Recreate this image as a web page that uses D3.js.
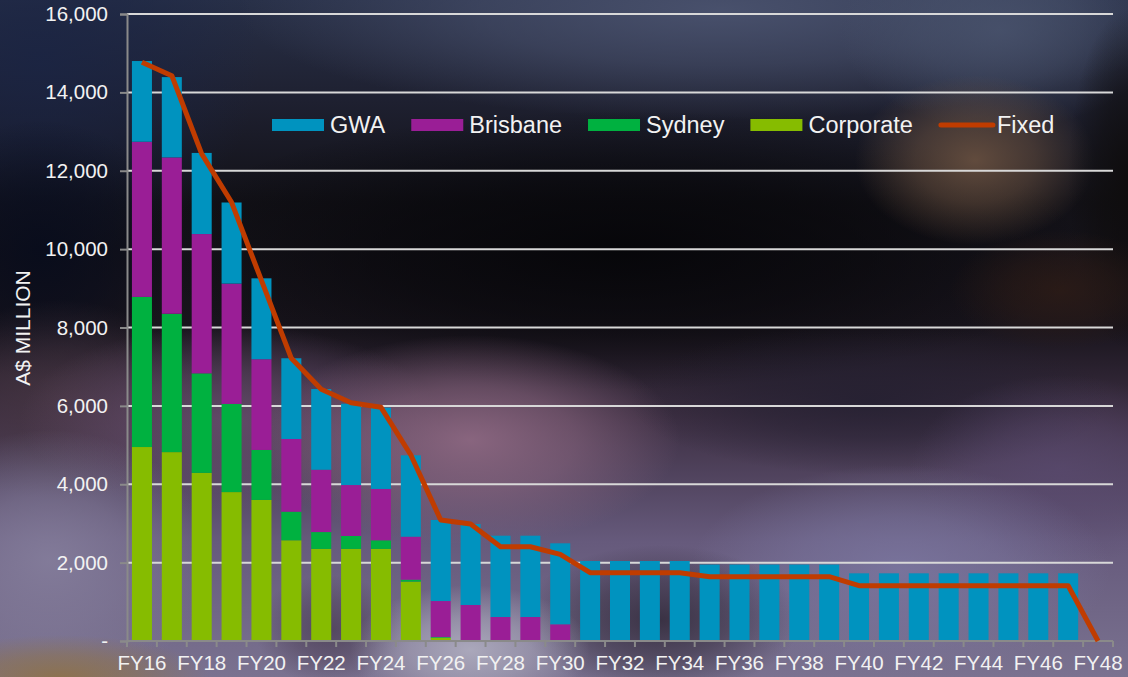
<!DOCTYPE html>
<html><head><meta charset="utf-8">
<script src="https://cdn.jsdelivr.net/npm/d3@7"></script>
<style>
html,body{margin:0;padding:0;background:#1a1a22;overflow:hidden}
svg{display:block;font-family:"Liberation Sans",Arial,Helvetica,sans-serif}
</style>
</head><body>
<svg id="chart" width="1128" height="677"></svg>
<script>
// ---------- data ----------
const categories = ["FY16","FY17","FY18","FY19","FY20","FY21","FY22","FY23","FY24","FY25","FY26","FY27","FY28","FY29","FY30","FY31","FY32","FY33","FY34","FY35","FY36","FY37","FY38","FY39","FY40","FY41","FY42","FY43","FY44","FY45","FY46","FY47","FY48"];
const corporate = [4950,4820,4290,3800,3600,2570,2350,2350,2350,1515,80,0,0,0,0,0,0,0,0,0,0,0,0,0,0,0,0,0,0,0,0,0,0];
const sydney    = [3830,3530,2540,2250,1275,730,430,330,220,50,20,0,0,0,0,0,0,0,0,0,0,0,0,0,0,0,0,0,0,0,0,0,0];
const brisbane  = [3960,3990,3555,3070,2315,1855,1590,1300,1310,1097,920,919,612,612,426,0,0,0,0,0,0,0,0,0,0,0,0,0,0,0,0,0,0];
const gwa       = [2060,2050,2070,2070,2065,2060,2060,2075,2075,2076,2068,2066,2075,2075,2067,2041,2041,2041,2041,1950,1950,1950,1950,1950,1727,1727,1727,1727,1727,1727,1727,1727,0];
const fixed     = [14770,14425,12430,11195,9200,7213,6422,6081,5963,4746,3088,2985,2406,2406,2212,1743,1743,1743,1743,1641,1641,1641,1641,1641,1411,1411,1411,1411,1411,1411,1411,1411,0];
const yTicks = [0,2000,4000,6000,8000,10000,12000,14000,16000];
const xTickLabels = ["FY16","FY18","FY20","FY22","FY24","FY26","FY28","FY30","FY32","FY34","FY36","FY38","FY40","FY42","FY44","FY46","FY48"];
const seriesNames = ["Corporate","Sydney","Brisbane","GWA"];
const legendNames = ["GWA","Brisbane","Sydney","Corporate","Fixed"];

// ---------- styles ----------
const colors = {GWA:"#0093BF", Brisbane:"#9A1E96", Sydney:"#00B140", Corporate:"#86BC00", Fixed:"#C03C00"};
const W = 1128, H = 677;
const margin = {left:127, right:15, top:14, bottom:36};
const textColor = "#f2f2f2";

const svg = d3.select("#chart");
const defs = svg.append("defs");

// ---------- background (approximation of the photographic backdrop) ----------
const bg = defs.append("linearGradient").attr("id","bgGrad").attr("x1",0).attr("y1",0).attr("x2",0).attr("y2",1);
[[0,"#283048"],[0.15,"#1e2030"],[0.3,"#121117"],[0.48,"#18141c"],[0.62,"#3e3044"],[0.8,"#665a7c"],[1,"#7a7290"]]
  .forEach(([o,c])=>bg.append("stop").attr("offset",o).attr("stop-color",c));
svg.append("rect").attr("width",W).attr("height",H).attr("fill","url(#bgGrad)");
const blobs = [
  {cx:720,cy:10,rx:480,ry:110,c:"#4c5470",o:0.9},
  {cx:1000,cy:30,rx:160,ry:100,c:"#4a546e",o:0.8},
  {cx:40,cy:60,rx:220,ry:200,c:"#1a2444",o:0.8},
  {cx:40,cy:250,rx:140,ry:130,c:"#080c1c",o:0.9},
  {cx:620,cy:250,rx:470,ry:140,c:"#050508",o:0.9},
  {cx:975,cy:160,rx:120,ry:85,c:"#6e5442",o:0.85},
  {cx:1128,cy:180,rx:60,ry:170,c:"#0e0c0c",o:0.9},
  {cx:1060,cy:290,rx:110,ry:60,c:"#2e1c16",o:0.8},
  {cx:60,cy:400,rx:140,ry:100,c:"#4a3844",o:0.7},
  {cx:230,cy:420,rx:210,ry:95,c:"#6a5070",o:0.8},
  {cx:470,cy:440,rx:210,ry:105,c:"#906a84",o:0.9},
  {cx:870,cy:400,rx:240,ry:75,c:"#231f30",o:0.8},
  {cx:1060,cy:470,rx:150,ry:95,c:"#5a4a70",o:0.7},
  {cx:50,cy:560,rx:160,ry:130,c:"#857e9c",o:0.9},
  {cx:900,cy:570,rx:210,ry:105,c:"#7c78a2",o:0.8},
  {cx:660,cy:620,rx:140,ry:75,c:"#302838",o:0.85},
  {cx:330,cy:630,rx:75,ry:55,c:"#46384e",o:0.7},
  {cx:470,cy:650,rx:120,ry:65,c:"#b0aec0",o:0.9},
  {cx:60,cy:677,rx:150,ry:42,c:"#8e7248",o:0.9}
];
blobs.forEach((b,i)=>{
  const g = defs.append("radialGradient").attr("id","blob"+i);
  g.append("stop").attr("offset",0).attr("stop-color",b.c).attr("stop-opacity",b.o);
  g.append("stop").attr("offset",0.5).attr("stop-color",b.c).attr("stop-opacity",b.o*0.6);
  g.append("stop").attr("offset",1).attr("stop-color",b.c).attr("stop-opacity",0);
});
svg.append("g").selectAll("ellipse").data(blobs).join("ellipse")
  .attr("cx",d=>d.cx).attr("cy",d=>d.cy).attr("rx",d=>d.rx).attr("ry",d=>d.ry)
  .attr("fill",(d,i)=>`url(#blob${i})`);

// ---------- scales ----------
const x = d3.scaleBand().domain(categories).range([margin.left, W - margin.right]).paddingInner(0.33).paddingOuter(0.165);
const y = d3.scaleLinear().domain([0,16000]).range([H - margin.bottom, margin.top]);

// gridlines
svg.append("g").selectAll("line").data(yTicks.filter(d=>d>0)).join("line")
  .attr("x1",margin.left).attr("x2",W - margin.right)
  .attr("y1",d=>y(d)).attr("y2",d=>y(d))
  .attr("stroke","#d8d8d8").attr("stroke-width",2);

// stacked bars
const table = categories.map((c,i)=>({cat:c, Corporate:corporate[i], Sydney:sydney[i], Brisbane:brisbane[i], GWA:gwa[i]}));
const stack = d3.stack().keys(seriesNames)(table);
svg.append("g").selectAll("g").data(stack).join("g")
  .attr("fill",d=>colors[d.key])
  .selectAll("rect").data(d=>d.filter(s=>s[1]-s[0]>0)).join("rect")
  .attr("x",d=>x(d.data.cat)).attr("width",x.bandwidth())
  .attr("y",d=>y(d[1])).attr("height",d=>y(d[0])-y(d[1]));

// y axis
const yAxis = d3.axisLeft(y).tickValues(yTicks).tickSize(7).tickPadding(12)
  .tickFormat(d=> d===0 ? "-" : d3.format(",")(d));
const gy = svg.append("g").attr("transform",`translate(${margin.left},0)`).call(yAxis);
gy.select(".domain").attr("stroke","#8a8a8a").attr("stroke-width",2);
gy.selectAll(".tick line").attr("stroke","#8a8a8a").attr("stroke-width",2);
gy.selectAll(".tick text").attr("fill",textColor).attr("font-size",20.5).attr("font-family","Liberation Sans, Arial, sans-serif");

// x axis
const xAxis = d3.axisBottom(x).tickValues(xTickLabels).tickSize(0).tickPadding(14);
const gx = svg.append("g").attr("transform",`translate(0,${H - margin.bottom})`).call(xAxis);
gx.select(".domain").remove();
gx.append("line").attr("x1",margin.left).attr("x2",W - margin.right).attr("y1",0).attr("y2",0)
  .attr("stroke","#8a8a8a").attr("stroke-width",2);
gx.selectAll(".boundary").data(categories.concat(["__end"])).join("line").attr("class","boundary")
  .attr("x1",(d,i)=> i<categories.length ? x(d) - x.step()*x.paddingOuter() : W - margin.right)
  .attr("x2",(d,i)=> i<categories.length ? x(d) - x.step()*x.paddingOuter() : W - margin.right)
  .attr("y1",0).attr("y2",6).attr("stroke","#8a8a8a").attr("stroke-width",2);
gx.selectAll(".tick text").attr("fill",textColor).attr("font-size",20.5).attr("font-family","Liberation Sans, Arial, sans-serif");

// y title
svg.append("text").attr("transform","translate(30,328) rotate(-90)")
  .attr("text-anchor","middle").attr("fill",textColor).attr("font-size",21).text("A$ MILLION");

// fixed line
const line = d3.line().x((d,i)=>x(categories[i]) + x.bandwidth()/2).y(d=>y(d));
svg.append("path").datum(fixed).attr("d",line).attr("fill","none")
  .attr("stroke",colors.Fixed).attr("stroke-width",5).attr("stroke-linejoin","round");

// legend
const lg = svg.append("g").attr("font-size",23.5).attr("fill",textColor);
let lx = 272;
const ly = 125;
legendNames.forEach(name=>{
  if(name==="Fixed"){
    lg.append("line").attr("x1",lx+2).attr("x2",lx+54).attr("y1",ly).attr("y2",ly)
      .attr("stroke",colors.Fixed).attr("stroke-width",5).attr("stroke-linecap","round");
  } else {
    lg.append("rect").attr("x",lx).attr("y",ly-6).attr("width",52).attr("height",12).attr("fill",colors[name]);
  }
  const t = lg.append("text").attr("x",lx+58).attr("y",ly).attr("dy","0.36em").text(name);
  lx += 58 + t.node().getComputedTextLength() + 26;
});
</script>
</body></html>
